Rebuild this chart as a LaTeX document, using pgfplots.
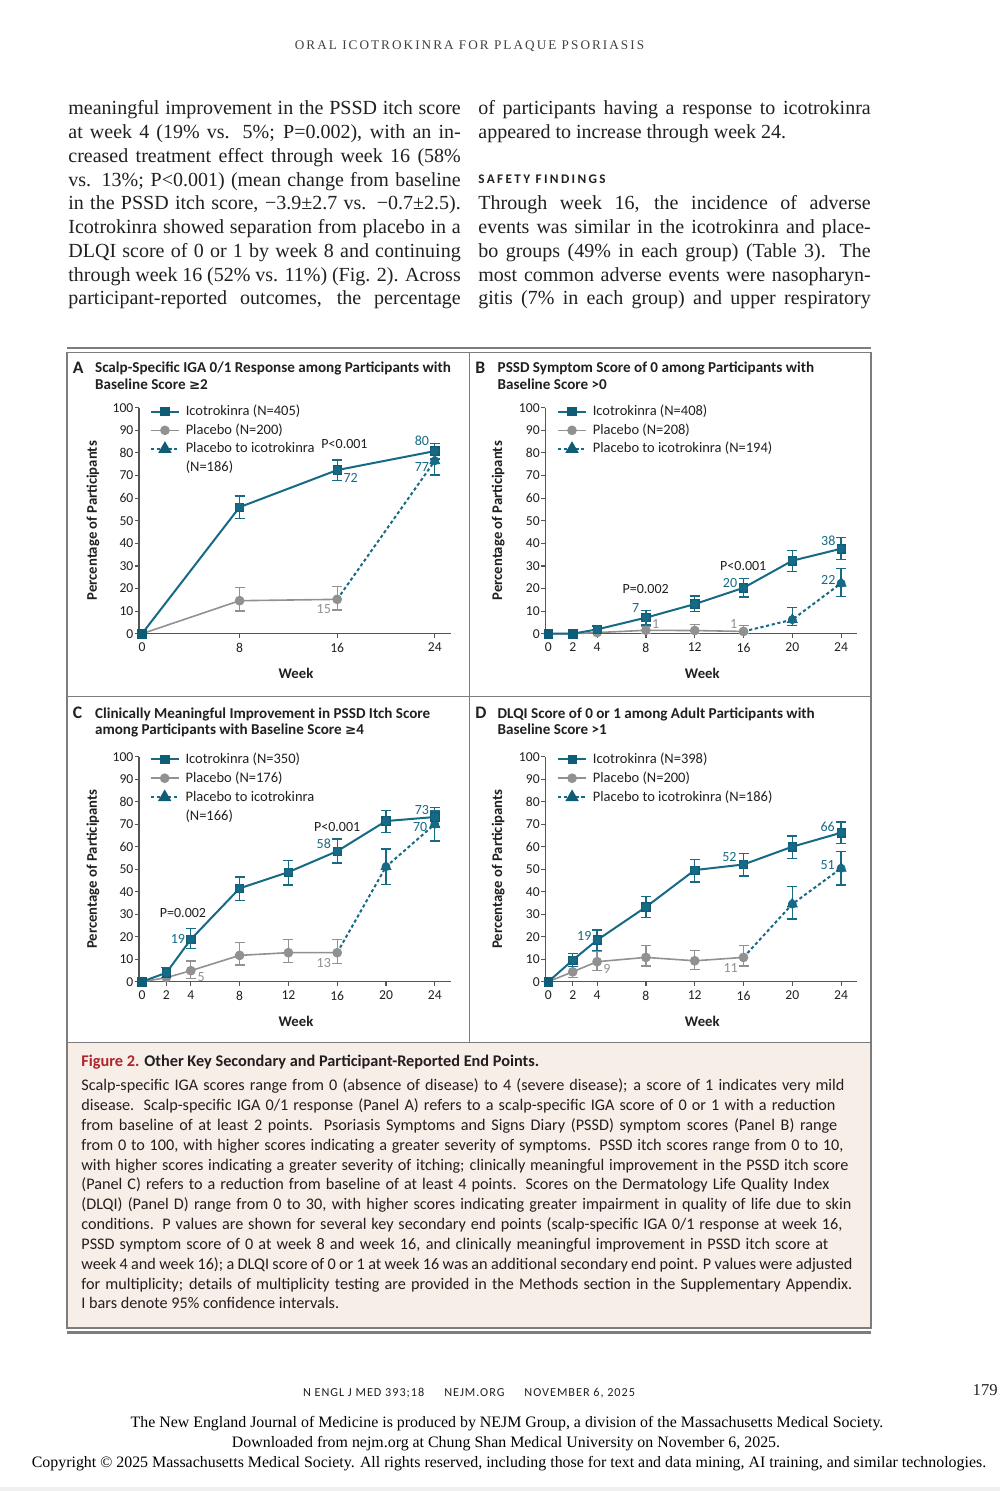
\documentclass[border=0pt]{standalone}
\usepackage{fontspec}
\setmainfont{Liberation Serif}
\newfontfamily\figfont{Carlito}
\newfontfamily\symf{DejaVu Sans}
\usepackage{pgfplots}
\pgfplotsset{compat=1.18}

\definecolor{tealc}{RGB}{22,106,134}
\definecolor{tealm}{RGB}{14,92,118}
\definecolor{grayc}{RGB}{145,145,145}
\definecolor{framec}{RGB}{125,125,125}
\definecolor{capbg}{RGB}{246,238,231}
\definecolor{figred}{RGB}{176,35,42}
\definecolor{axisc}{RGB}{85,85,85}
\definecolor{txtc}{RGB}{35,31,32}

\newcommand\bodyfont{\fontsize{10}{12}\selectfont}
\newcommand\pgJust[3]{\node[anchor=base west,inner sep=0pt,text=txtc] at (#1,#2) {\bodyfont\makebox[196.2pt][s]{#3}};}
\newcommand\pgLeft[3]{\node[anchor=base west,inner sep=0pt,text=txtc] at (#1,#2) {\bodyfont #3};}
% caption line: baseline, right end (px), text
\newcommand\pgCap[3]{\node[anchor=base west,inner sep=0pt,text=txtc] at (81,#1) {\figfont\fontsize{8.1}{9}\selectfont\makebox[\dimexpr (#2pt-81pt)/2\relax][s]{#3}};}
\newcommand\pgGe{{\symf\fontsize{6.7}{7}\selectfont\bfseries ≥}}
\newcommand\ttl{\figfont\bfseries\fontsize{7.56}{8}\selectfont}

\tikzset{
  lab/.style={font=\figfont\fontsize{7}{7}\selectfont, inner sep=0pt},
  pv/.style={font=\figfont\fontsize{7}{7}\selectfont, inner sep=0pt, text=txtc},
}

\pgfplotsset{
  panel/.style={
    scale only axis, width=155.85pt, anchor=south west,
    xmin=-0.25, xmax=25.3, ymin=0, ymax=100,
    axis lines=left, axis line style={-, draw=axisc, line width=0.6pt},
    tick style={draw=axisc, line width=0.6pt},
    tick align=outside, major tick length=2pt,
    ytick={0,10,...,100},
    /pgf/number format/assume math mode=true,
    tick label style={font=\figfont\fontsize{6.8}{7}\selectfont, text=txtc},
    yticklabel style={inner xsep=0.6pt},
    xticklabel style={inner ysep=2.5pt},
    clip=false,
    legend cell align=left,
    legend image code/.code={\draw[mark repeat=2,mark phase=2,##1] plot coordinates {(0pt,0pt) (7pt,0pt) (14pt,0pt)};},
    legend style={anchor=north west, draw=none, fill=none, inner sep=0pt, outer sep=0pt,
      row sep=0pt, font=\figfont\fontsize{7.25}{8.2}\selectfont, text=txtc,
      nodes={inner sep=0pt, text height=6.55pt, text depth=2.78pt},
      /tikz/every odd column/.append style={column sep=2.9pt}},
  },
  icoS/.style={tealc, line width=1pt, mark=square*, mark size=2.1pt, mark options={solid, fill=tealm, draw=tealm, line width=0.4pt}},
  plaS/.style={grayc, line width=0.8pt, mark=*, mark size=2pt, mark options={solid, fill=grayc, draw=grayc}},
  p2iL/.style={tealc, line width=1pt, dash pattern=on 1.6pt off 1.3pt, no marks},
  p2iM/.style={tealc, only marks, mark=triangle*, mark size=2.9pt, mark options={solid, fill=tealm, draw=tealm, line width=0.3pt}},
  errb/.style={only marks, mark=none, forget plot, error bars/.cd, y dir=both, y explicit,
    error bar style={line width=0.65pt, solid},
    error mark options={rotate=90, mark size=2.5pt, line width=0.65pt, solid}},
}

\begin{document}
\begin{tikzpicture}
\path[use as bounding box] (0,0) rectangle (500pt,-745.5pt);
\fill[white] (0,0) rectangle (500pt,-745.5pt);
\begin{scope}[x=0.5pt,y=-0.5pt]
% running head
\node[anchor=base,inner sep=0pt,text=black!75] at (469.5,50) {\fontsize{6.6}{7}\selectfont\addfontfeature{LetterSpace=15.5}ORAL ICOTROKINRA FOR PLAQUE PSORIASIS};
% left column
\pgJust{68}{115}{meaningful improvement in the PSSD itch score}
\pgJust{68}{138.75}{at week 4 (19\% vs. 5\%; P=0.002), with an in-}
\pgJust{68}{162.5}{creased treatment effect through week 16 (58\%}
\pgJust{68}{186.25}{vs. 13\%; P<0.001) (mean change from baseline}
\pgJust{68}{210}{in the PSSD itch score, −3.9±2.7 vs. −0.7±2.5).}
\pgJust{68}{233.75}{Icotrokinra showed separation from placebo in a}
\pgJust{68}{257.5}{DLQI score of 0 or 1 by week 8 and continuing}
\pgJust{68}{281.25}{through week 16 (52\% vs. 11\%) (Fig. 2). Across}
\pgJust{68}{305}{participant-reported outcomes, the percentage}
% right column
\pgJust{478}{115}{of participants having a response to icotrokinra}
\pgLeft{478}{138.75}{appeared to increase through week 24.}
\node[anchor=base west,inner sep=0pt,text=txtc] at (478,184) {\figfont\bfseries\fontsize{6.6}{7}\selectfont\addfontfeature{LetterSpace=18}SAFETY FINDINGS};
\pgJust{478}{210}{Through week 16, the incidence of adverse}
\pgJust{478}{233.75}{events was similar in the icotrokinra and place-}
\pgJust{478}{257.5}{bo groups (49\% in each group) (Table 3). The}
\pgJust{478}{281.25}{most common adverse events were nasopharyn-}
\pgJust{478}{305}{gitis (7\% in each group) and upper respiratory}

% figure frame
\draw[framec, line width=1.1pt] (67,348) -- (871,348);
\fill[capbg] (67,1042.5) rectangle (871,1328);
\draw[framec, line width=0.6pt] (67,352.5) rectangle (871,1328);
\draw[framec, line width=0.6pt] (67,1042.5) -- (871,1042.5);
\draw[framec, line width=0.6pt] (469.5,352.5) -- (469.5,1042.5);
\draw[framec, line width=0.6pt] (67,696.7) -- (871,696.7);
\draw[framec, line width=1.1pt] (67,1332.5) -- (871,1332.5);

% panel titles
\begin{scope}[every node/.style={anchor=base west,inner sep=0pt,text=txtc}]
\node at (72.5,373.5) {\figfont\bfseries\fontsize{8.8}{9}\selectfont A};
\node at (94.7,373) {\ttl Scalp-Specific IGA 0/1 Response among Participants with};
\node at (94.7,389.5) {\ttl Baseline Score \pgGe2};
\node at (475,373.5) {\figfont\bfseries\fontsize{8.8}{9}\selectfont B};
\node at (497.3,373) {\ttl PSSD Symptom Score of 0 among Participants with};
\node at (497.3,389.5) {\ttl Baseline Score >0};
\node at (72.5,718.5) {\figfont\bfseries\fontsize{8.8}{9}\selectfont C};
\node at (94.7,718) {\ttl Clinically Meaningful Improvement in PSSD Itch Score};
\node at (94.7,734.5) {\ttl among Participants with Baseline Score \pgGe4};
\node at (475,718.5) {\figfont\bfseries\fontsize{8.8}{9}\selectfont D};
\node at (497.3,718) {\ttl DLQI Score of 0 or 1 among Adult Participants with};
\node at (497.3,734.5) {\ttl Baseline Score >1};
\end{scope}

% axis labels
\begin{scope}[every node/.style={inner sep=0pt,text=txtc,font=\figfont\bfseries\fontsize{7.35}{8}\selectfont}]
\node[rotate=90] at (93,520.7) {Percentage of Participants};
\node[rotate=90] at (498.3,520.7) {Percentage of Participants};
\node[rotate=90] at (93,869) {Percentage of Participants};
\node[rotate=90] at (498.3,869) {Percentage of Participants};
\node at (296,673) {Week};
\node at (702.3,673) {Week};
\node at (296,1021.7) {Week};
\node at (702.3,1021.7) {Week};
\end{scope}

% caption
\node[anchor=base west,inner sep=0pt] at (81,1066.7) {\figfont\bfseries\fontsize{8.15}{9}\selectfont\textcolor{figred}{Figure 2.} \textcolor{txtc}{Other Key Secondary and Participant-Reported End Points.}};
\pgCap{1090.7}{844}{Scalp-specific IGA scores range from 0 (absence of disease) to 4 (severe disease); a score of 1 indicates very mild}
\pgCap{1110.5}{835}{disease. Scalp-specific IGA 0/1 response (Panel A) refers to a scalp-specific IGA score of 0 or 1 with a reduction}
\pgCap{1130.4}{837}{from baseline of at least 2 points. Psoriasis Symptoms and Signs Diary (PSSD) symptom scores (Panel B) range}
\pgCap{1150.2}{843}{from 0 to 100, with higher scores indicating a greater severity of symptoms. PSSD itch scores range from 0 to 10,}
\pgCap{1170.0}{848}{with higher scores indicating a greater severity of itching; clinically meaningful improvement in the PSSD itch score}
\pgCap{1189.9}{829}{(Panel C) refers to a reduction from baseline of at least 4 points. Scores on the Dermatology Life Quality Index}
\pgCap{1209.7}{851}{(DLQI) (Panel D) range from 0 to 30, with higher scores indicating greater impairment in quality of life due to skin}
\pgCap{1229.5}{842}{conditions. P values are shown for several key secondary end points (scalp-specific IGA 0/1 response at week 16,}
\pgCap{1249.3}{828}{PSSD symptom score of 0 at week 8 and week 16, and clinically meaningful improvement in PSSD itch score at}
\pgCap{1269.2}{852}{week 4 and week 16); a DLQI score of 0 or 1 at week 16 was an additional secondary end point. P values were adjusted}
\pgCap{1289.0}{852}{for multiplicity; details of multiplicity testing are provided in the Methods section in the Supplementary Appendix.}
\node[anchor=base west,inner sep=0pt,text=txtc] at (81,1308.8) {\figfont\fontsize{8.1}{9}\selectfont I bars denote 95\% confidence intervals.};

% footer
\node[anchor=base,inner sep=0pt,text=txtc] at (469,1396) {\figfont\fontsize{6.1}{7}\selectfont\addfontfeature{LetterSpace=8}N ENGL J MED 393;18\hspace{10pt}NEJM.ORG\hspace{10pt}NOVEMBER 6, 2025};
\node[anchor=base east,inner sep=0pt,text=txtc] at (998,1395) {\fontsize{8.3}{9}\selectfont 179};
\node[anchor=base,inner sep=0pt] at (507,1427) {\fontsize{7.95}{9}\selectfont The New England Journal of Medicine is produced by NEJM Group, a division of the Massachusetts Medical Society.};
\node[anchor=base,inner sep=0pt] at (506,1447) {\fontsize{7.95}{9}\selectfont Downloaded from nejm.org at Chung Shan Medical University on November 6, 2025.};
\node[anchor=base,inner sep=0pt] at (509,1467) {\fontsize{7.95}{9}\selectfont Copyright © 2025 Massachusetts Medical Society. All rights reserved, including those for text and data mining, AI training, and similar technologies.};
\fill[black!6] (0,1487) rectangle (1000,1491);

\coordinate (oA) at (138.95,633.7);
\coordinate (oB) at (545.25,633.7);
\coordinate (oC) at (138.95,981.7);
\coordinate (oD) at (545.25,981.7);
\end{scope}

% ---------- Panel A ----------
\begin{axis}[panel, at={(oA)}, height=113pt, xtick={0,8,16,24},
  legend style={at={(0.0353,1.0237)}}]
\addlegendimage{icoS}
\addlegendentry{Icotrokinra (N=405)}
\addlegendimage{plaS}
\addlegendentry{Placebo (N=200)}
\addlegendimage{tealc, line width=1pt, dash pattern=on 1.6pt off 1.3pt, mark=triangle*, mark size=2.9pt, mark options={solid, fill=tealm, draw=tealm}}
\addlegendentry{Placebo to icotrokinra}
\addlegendimage{empty legend}
\addlegendentry{(N=186)}
\addplot[plaS, forget plot] coordinates {(0,0) (8,14.6) (16,15.2)};
\addplot[grayc, errb] table[x=x, y=y, y error plus=p, y error minus=m] {
x y p m
8 14.6 5.8 4.6
16 15.2 5.6 4.7
};
\addplot[p2iL, forget plot] coordinates {(16,15.2) (24,76.5)};
\addplot[p2iM, forget plot] coordinates {(24,76.5)};
\addplot[tealc, errb] table[x=x, y=y, y error plus=p, y error minus=m] {
x y p m
24 76.5 5.2 6.3
};
\addplot[icoS, forget plot] coordinates {(0,0) (8,56) (16,72.4) (24,80.8)};
\addplot[tealc, errb] table[x=x, y=y, y error plus=p, y error minus=m] {
x y p m
8 56 4.9 5.1
16 72.4 4.4 4.7
24 80.8 3.4 3.5
};
\node[lab, text=tealc] at (axis cs:22.95,85.3) {80};
\node[lab, text=tealc] at (axis cs:22.95,73.6) {77};
\node[lab, text=tealc] at (axis cs:17.1,68.8) {72};
\node[lab, text=grayc] at (axis cs:14.9,10.8) {15};
\node[pv] at (axis cs:16.6,83.9) {P<0.001};
\end{axis}

% ---------- Panel B ----------
\begin{axis}[panel, at={(oB)}, height=113pt, xtick={0,2,4,8,12,16,20,24},
  legend style={at={(0.0377,1.0237)}}]
\addlegendimage{icoS}
\addlegendentry{Icotrokinra (N=408)}
\addlegendimage{plaS}
\addlegendentry{Placebo (N=208)}
\addlegendimage{tealc, line width=1pt, dash pattern=on 1.6pt off 1.3pt, mark=triangle*, mark size=2.9pt, mark options={solid, fill=tealm, draw=tealm}}
\addlegendentry{Placebo to icotrokinra (N=194)}
\addplot[plaS, forget plot] coordinates {(0,0) (2,0) (4,0.5) (8,1.5) (12,1.4) (16,1.0)};
\addplot[grayc, errb] table[x=x, y=y, y error plus=p, y error minus=m] {
x y p m
8 1.5 1.9 1.5
12 1.4 2.7 1.4
16 1.0 2.5 1.0
};
\addplot[p2iL, forget plot] coordinates {(16,1.0) (20,6.2) (24,22.3)};
\addplot[p2iM, forget plot] coordinates {(20,6.2) (24,22.3)};
\addplot[tealc, errb] table[x=x, y=y, y error plus=p, y error minus=m] {
x y p m
20 6.2 5.3 2.7
24 22.3 6.6 5.9
};
\addplot[icoS, forget plot] coordinates {(0,0) (2,0) (4,1.9) (8,7.1) (12,13.1) (16,20.3) (20,32.3) (24,37.6)};
\addplot[tealc, errb] table[x=x, y=y, y error plus=p, y error minus=m] {
x y p m
4 1.9 1.5 1.9
8 7.1 3.2 3.3
12 13.1 3.6 3.4
16 20.3 4.0 4.1
20 32.3 4.6 4.9
24 37.6 5.0 4.7
};
\node[lab, text=tealc] at (axis cs:7.16,11.5) {7};
\node[lab, text=grayc] at (axis cs:8.8,4.2) {1};
\node[lab, text=grayc] at (axis cs:15.2,4.2) {1};
\node[lab, text=tealc] at (axis cs:14.9,22.3) {20};
\node[lab, text=tealc] at (axis cs:22.95,41.2) {38};
\node[lab, text=tealc] at (axis cs:22.95,24) {22};
\node[pv] at (axis cs:7.98,19.6) {P=0.002};
\node[pv] at (axis cs:15.98,30) {P<0.001};
\end{axis}

% ---------- Panel C ----------
\begin{axis}[panel, at={(oC)}, height=112.5pt, xtick={0,2,4,8,12,16,20,24},
  legend style={at={(0.0345,1.031)}, nodes={inner sep=0pt, text height=6.65pt, text depth=2.85pt}}]
\addlegendimage{icoS}
\addlegendentry{Icotrokinra (N=350)}
\addlegendimage{plaS}
\addlegendentry{Placebo (N=176)}
\addlegendimage{tealc, line width=1pt, dash pattern=on 1.6pt off 1.3pt, mark=triangle*, mark size=2.9pt, mark options={solid, fill=tealm, draw=tealm}}
\addlegendentry{Placebo to icotrokinra}
\addlegendimage{empty legend}
\addlegendentry{(N=166)}
\addplot[plaS, forget plot] coordinates {(0,0) (2,1.8) (4,4.9) (8,11.7) (12,12.9) (16,12.9)};
\addplot[grayc, errb] table[x=x, y=y, y error plus=p, y error minus=m] {
x y p m
4 4.9 4.3 3.4
8 11.7 5.8 4.3
12 12.9 5.9 4.5
16 12.9 5.9 4.8
};
\addplot[p2iL, forget plot] coordinates {(16,12.9) (20,51.1) (24,70)};
\addplot[p2iM, forget plot] coordinates {(20,51.1) (24,70)};
\addplot[tealc, errb] table[x=x, y=y, y error plus=p, y error minus=m] {
x y p m
20 51.1 7.9 7.8
24 70 5.9 7.5
};
\addplot[icoS, forget plot] coordinates {(0,0) (2,4.0) (4,18.8) (8,41.5) (12,48.7) (16,58) (20,71.4) (24,73.2)};
\addplot[tealc, errb] table[x=x, y=y, y error plus=p, y error minus=m] {
x y p m
2 4.0 2.2 2.2
4 18.8 4.9 4.0
8 41.5 5.0 5.5
12 48.7 5.3 5.7
16 58 5.4 5.3
20 71.4 4.6 5.0
24 73.2 4.3 4.6
};
\node[lab, text=tealc] at (axis cs:2.95,18.8) {19};
\node[lab, text=grayc] at (axis cs:4.86,2.2) {5};
\node[lab, text=tealc] at (axis cs:14.9,61.3) {58};
\node[lab, text=grayc] at (axis cs:14.9,8.2) {13};
\node[lab, text=tealc] at (axis cs:22.95,76.2) {73};
\node[lab, text=tealc] at (axis cs:22.8,68.6) {70};
\node[pv] at (axis cs:3.36,30.4) {P=0.002};
\node[pv] at (axis cs:16.0,68.6) {P<0.001};
\end{axis}

% ---------- Panel D ----------
\begin{axis}[panel, at={(oD)}, height=112.5pt, xtick={0,2,4,8,12,16,20,24},
  legend style={at={(0.038,1.031)}, nodes={inner sep=0pt, text height=6.65pt, text depth=2.85pt}}]
\addlegendimage{icoS}
\addlegendentry{Icotrokinra (N=398)}
\addlegendimage{plaS}
\addlegendentry{Placebo (N=200)}
\addlegendimage{tealc, line width=1pt, dash pattern=on 1.6pt off 1.3pt, mark=triangle*, mark size=2.9pt, mark options={solid, fill=tealm, draw=tealm}}
\addlegendentry{Placebo to icotrokinra (N=186)}
\addplot[plaS, forget plot] coordinates {(0,0) (2,4.4) (4,8.9) (8,10.8) (12,9.3) (16,10.8)};
\addplot[grayc, errb] table[x=x, y=y, y error plus=p, y error minus=m] {
x y p m
2 4.4 2.3 2.6
4 8.9 4.7 4.0
8 10.8 5.2 3.8
12 9.3 4.7 3.8
16 10.8 5.2 3.8
};
\addplot[p2iL, forget plot] coordinates {(16,10.8) (20,34.5) (24,50.4)};
\addplot[p2iM, forget plot] coordinates {(20,34.5) (24,50.4)};
\addplot[tealc, errb] table[x=x, y=y, y error plus=p, y error minus=m] {
x y p m
20 34.5 7.7 6.6
24 50.4 7.6 7.4
};
\addplot[icoS, forget plot] coordinates {(0,0) (2,9.6) (4,18.5) (8,33.2) (12,49.6) (16,52.1) (20,60) (24,66.2)};
\addplot[tealc, errb] table[x=x, y=y, y error plus=p, y error minus=m] {
x y p m
2 9.6 3.0 2.9
4 18.5 4.5 4.5
8 33.2 4.8 4.8
12 49.6 4.8 5.3
16 52.1 4.9 5.1
20 60 4.7 5.2
24 66.2 4.8 4.9
};
\node[lab, text=tealc] at (axis cs:2.95,20.4) {19};
\node[lab, text=grayc] at (axis cs:4.8,5.5) {9};
\node[lab, text=tealc] at (axis cs:14.85,55.4) {52};
\node[lab, text=grayc] at (axis cs:14.95,5.9) {11};
\node[lab, text=tealc] at (axis cs:22.9,68.9) {66};
\node[lab, text=tealc] at (axis cs:22.9,51.9) {51};
\end{axis}
\end{tikzpicture}
\end{document}
